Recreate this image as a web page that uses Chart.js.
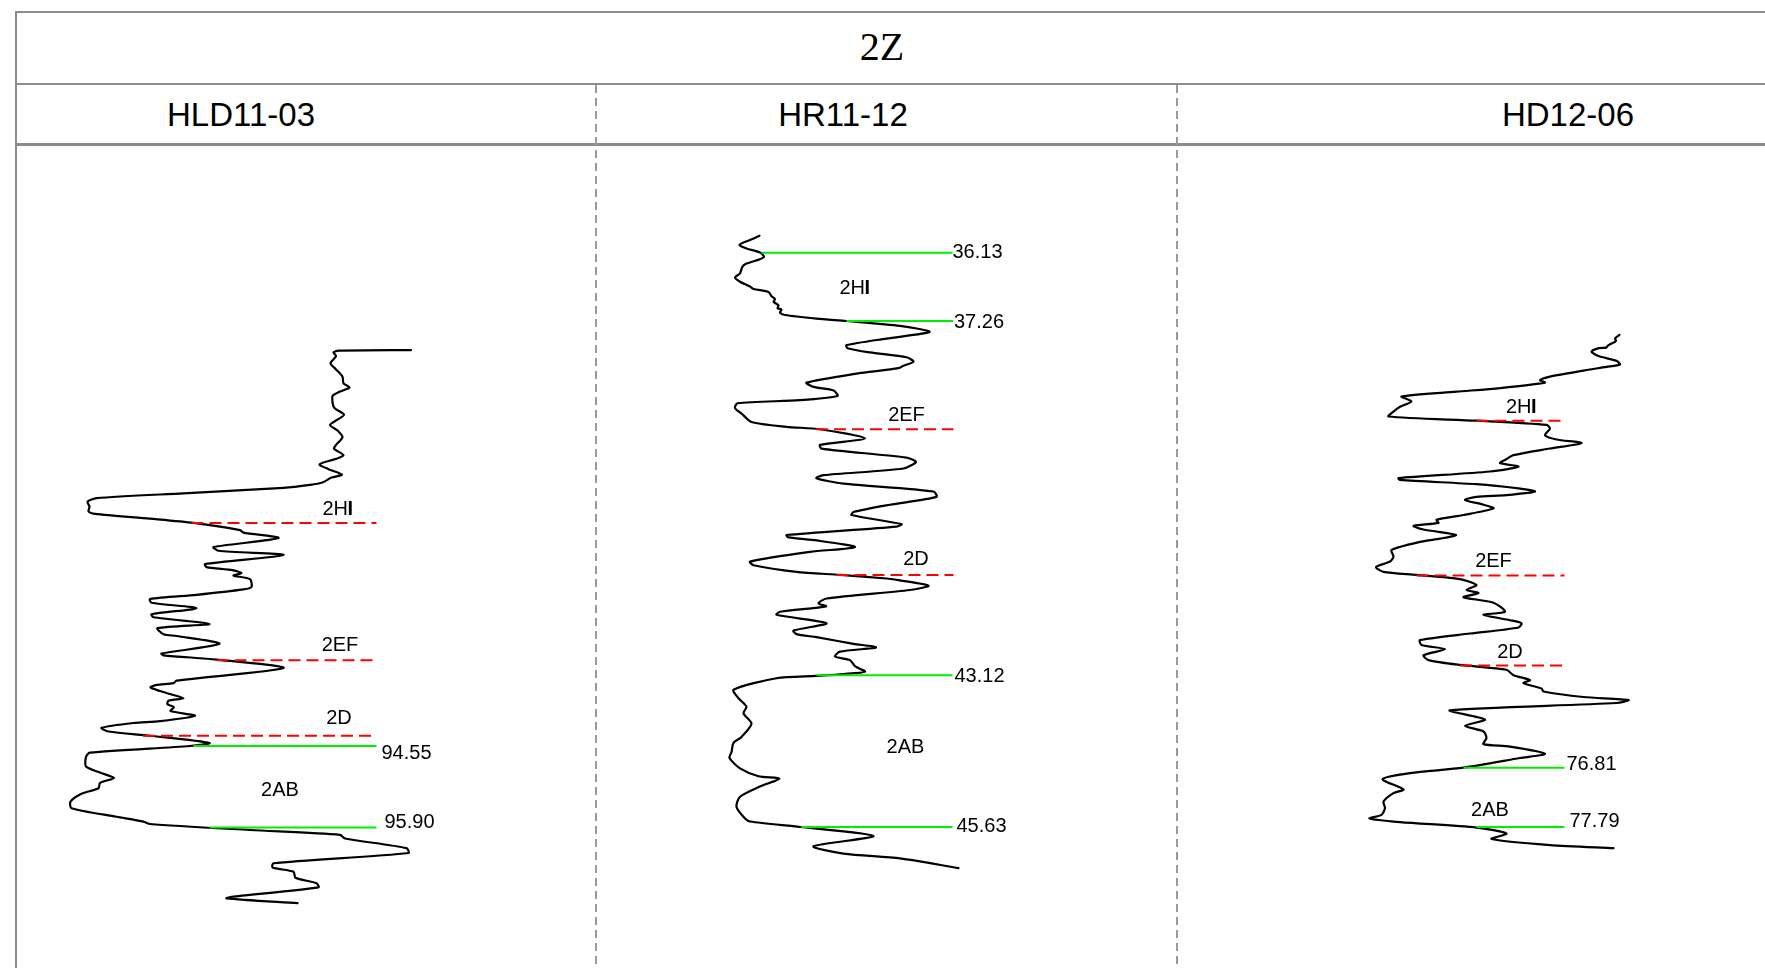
<!DOCTYPE html>
<html>
<head>
<meta charset="utf-8">
<script src="https://cdn.jsdelivr.net/npm/chart.js@4.4.1/dist/chart.umd.min.js"></script>
<style>
  html, body { margin: 0; padding: 0; background: #fff; }
  body { width: 1765px; height: 968px; position: relative; overflow: hidden; }
  .hl { position: absolute; background: #8c8c8c; }
  .vd { position: absolute; width: 2px; top: 85px; height: 883px;
        background: repeating-linear-gradient(to bottom, #9a9a9a 0 8px, transparent 8px 13px); }
  .txt { position: absolute; text-align: center; white-space: nowrap; color: #000; }
  canvas { position: absolute; }
</style>
</head>
<body>
<div class="hl" style="left:15px;top:11px;width:1750px;height:2px;"></div>
<div class="hl" style="left:15px;top:11px;width:2px;height:957px;"></div>
<div class="hl" style="left:15px;top:83px;width:1750px;height:2px;"></div>
<div class="hl" style="left:15px;top:143px;width:1750px;height:3px;"></div>
<div class="vd" style="left:595px;"></div>
<div class="vd" style="left:1176px;"></div>

<div class="txt" id="title" style="left:682px;width:400px;top:27px;font:40px/40px 'Liberation Serif','Times New Roman',serif;"></div>
<div class="txt" id="w0" style="left:41px;width:400px;top:98px;font:33px/33px 'Liberation Sans',Arial,sans-serif;"></div>
<div class="txt" id="w1" style="left:643px;width:400px;top:98px;font:33px/33px 'Liberation Sans',Arial,sans-serif;"></div>
<div class="txt" id="w2" style="left:1368px;width:400px;top:98px;font:33px/33px 'Liberation Sans',Arial,sans-serif;"></div>

<canvas id="c0" width="580" height="822" style="left:16px;top:146px;"></canvas>
<canvas id="c1" width="579" height="822" style="left:598px;top:146px;"></canvas>
<canvas id="c2" width="587" height="822" style="left:1178px;top:146px;"></canvas>

<script>
// ---------- titles ----------
const chartTitle = '2Z';
const wellNames = ['HLD11-03', 'HR11-12', 'HD12-06'];

// ---------- HLD11-03 : depth (m) and GR curve ----------
const hldDepth = [88.00,88.01,88.04,88.10,88.22,88.32,88.44,88.55,88.62,88.69,
  88.76,88.95,89.07,89.16,89.24,89.33,89.44,89.57,89.63,89.74,
  89.80,89.89,89.97,90.06,90.11,90.19,90.23,90.28,90.37,90.45,
  90.51,90.59,90.67,90.71,90.79,90.86,90.98,91.02,91.11,91.26,
  91.32,91.39,91.54,91.59,91.64,91.69,91.73,91.79,91.92,91.96,
  92.05,92.12,92.18,92.27,92.37,92.42,92.53,92.60,92.70,92.73,
  92.86,93.02,93.05,93.12,93.26,93.47,93.51,93.54,93.58,93.64,
  93.69,93.76,93.80,93.86,93.91,93.97,94.05,94.14,94.17,94.25,
  94.31,94.38,94.50,94.55,94.66,94.73,94.89,94.99,95.08,95.16,
  95.25,95.34,95.47,95.58,95.72,95.80,95.84,95.94,96.02,96.08,
  96.24,96.32,96.49,96.56,96.63,96.73,96.82,96.89,97.04,97.07,97.15];
const hldGR = [79.0,64.5,63.5,64.0,62.9,64.0,65.3,65.5,66.7,64.7,
  63.3,63.6,65.6,64.1,62.8,64.3,65.3,64.0,63.6,65.5,
  64.0,60.7,62.5,65.2,63.1,61.3,58.8,53.5,33.5,16.1,
  14.3,14.7,14.5,15.8,26.8,35.5,44.8,45.5,52.5,39.5,
  40.5,53.5,37.8,38.1,43.3,45.1,43.5,46.8,47.1,45.5,
  36.1,26.8,27.1,36.1,27.1,27.5,38.7,28.3,29.5,32.1,
  40.7,29.1,29.5,40.1,53.5,32.1,31.5,28.1,26.9,28.8,
  30.8,33.5,30.5,30.3,31.6,30.9,35.8,28.8,23.5,17.1,
  18.5,26.8,38.7,34.8,14.8,14.0,14.0,16.8,19.6,16.8,
  16.5,13.1,10.9,11.1,20.1,25.5,26.8,46.8,64.8,65.8,
  78.1,78.5,51.5,51.3,55.5,55.9,60.1,60.5,43.5,42.1,56.3];
const hldBoundDepth = [90.86, 93.13, 94.38, 94.55, 95.90];
const hldBoundStart = [35.1, 40.1, 25.4, 35.5, 38.8];
const hldBoundEnd   = [72.1, 72.1, 72.1, 72.1, 72.1];
const hldBoundKind  = ['top', 'top', 'top', 'pick', 'pick'];
const hldBoundText  = ['', '', '', '94.55', '95.90'];
const hldLayerName  = ['2HI', '2EF', '2D', '2AB'];
const hldLayerGR    = [64.4, 64.8, 64.6, 52.8];
const hldLayerDepth = [90.63, 92.88, 94.10, 95.29];

// ---------- HR11-12 ----------
const hrDepth = [35.85,35.92,36.00,36.06,36.13,36.20,36.24,36.31,36.36,36.47,
  36.54,36.61,36.69,36.73,36.78,36.85,36.90,36.94,37.00,37.05,
  37.07,37.12,37.16,37.22,37.26,37.34,37.44,37.55,37.66,37.71,
  37.78,37.86,37.93,38.00,38.04,38.13,38.28,38.35,38.41,38.50,
  38.57,38.62,38.70,38.79,38.93,39.01,39.05,39.20,39.31,39.37,
  39.52,39.59,39.70,39.81,39.86,39.95,40.08,40.17,40.30,40.42,
  40.47,40.62,40.66,40.80,40.84,40.89,41.00,41.08,41.24,41.30,
  41.41,41.46,41.52,41.55,41.64,41.71,41.85,41.93,41.98,42.07,
  42.12,42.26,42.38,42.44,42.49,42.60,42.66,42.73,42.81,42.87,
  42.97,43.06,43.10,43.13,43.17,43.36,43.50,43.64,43.75,43.92,
  44.14,44.24,44.39,44.49,44.66,44.79,44.83,44.96,45.13,45.30,
  45.49,45.54,45.63,45.78,45.95,46.07,46.15,46.31];
const hrGR = [32.3,30.4,28.3,29.7,32.5,33.2,32.3,29.7,28.9,28.4,
  27.4,28.4,30.4,31.1,34.1,34.7,35.4,35.1,36.1,35.9,
  36.7,36.4,37.4,43.7,49.7,60.4,66.3,57.7,49.7,49.9,
  54.4,61.7,63.1,61.1,60.1,51.7,41.7,43.1,47.1,47.9,
  40.4,27.9,27.4,28.7,30.7,37.7,44.4,53.4,44.4,44.7,
  61.7,63.6,61.1,45.1,43.7,49.1,67.1,67.7,58.4,51.1,
  50.7,60.7,59.7,37.7,38.1,43.7,51.4,42.4,30.4,31.1,
  39.7,48.4,57.7,60.4,66.1,62.4,45.7,44.1,45.6,36.4,
  35.7,45.7,39.1,39.7,43.7,51.1,55.6,48.4,47.4,50.4,
  51.4,53.4,49.1,43.7,35.7,27.1,28.1,29.7,29.1,30.7,
  28.7,27.1,26.7,26.3,28.4,32.1,36.3,32.4,28.4,27.7,
  29.4,30.4,40.4,55.1,43.1,49.1,60.4,72.1];
const hrBoundDepth = [36.13, 37.26, 39.05, 41.46, 43.12, 45.63];
const hrBoundStart = [32.7, 49.7, 43.6, 47.7, 43.7, 40.7];
const hrBoundEnd   = [70.9, 71.0, 71.1, 71.1, 70.9, 70.9];
const hrBoundKind  = ['pick', 'pick', 'top', 'top', 'pick', 'pick'];
const hrBoundText  = ['36.13', '37.26', '', '', '43.12', '45.63'];
const hrLayerName  = ['2HI', '2EF', '2D', '2AB'];
const hrLayerGR    = [51.4, 61.7, 63.6, 61.5];
const hrLayerDepth = [36.72, 38.83, 41.21, 44.31];

// ---------- HD12-06 ----------
const hdDepth = [69.65,69.71,69.75,69.82,69.86,69.87,69.93,70.00,70.08,70.14,
  70.18,70.24,70.34,70.40,70.44,70.53,70.59,70.67,70.75,70.84,
  70.92,71.00,71.07,71.14,71.20,71.31,71.38,71.44,71.53,71.64,
  71.72,71.77,71.83,71.91,72.02,72.05,72.12,72.19,72.24,72.30,
  72.33,72.38,72.46,72.52,72.63,72.71,72.76,72.81,72.87,72.96,
  73.02,73.07,73.21,73.32,73.40,73.49,73.57,73.62,73.69,73.79,
  73.87,73.92,73.99,74.08,74.23,74.28,74.37,74.42,74.49,74.59,
  74.70,74.78,74.85,74.95,75.03,75.11,75.19,75.28,75.36,75.41,
  75.50,75.55,75.64,75.69,75.74,75.86,75.97,76.02,76.12,76.21,
  76.32,76.42,76.46,76.58,76.65,76.81,76.90,77.00,77.17,77.23,
  77.37,77.48,77.59,77.65,77.71,77.80,77.90,77.99,78.09,78.14];
const hdGR = [88.3,87.4,87.6,86.1,85.6,84.1,82.7,84.1,87.7,88.4,
  85.7,81.1,74.4,72.4,73.4,64.4,55.7,44.7,46.7,44.4,
  43.1,42.1,59.7,73.7,74.4,73.4,75.7,80.7,74.4,67.1,
  65.4,64.4,68.1,62.4,44.1,44.4,59.7,68.1,71.4,65.7,
  59.7,57.4,61.1,63.1,57.1,51.7,52.1,47.1,49.1,55.6,
  52.4,48.7,42.7,43.1,42.4,39.6,41.1,47.7,56.4,59.7,
  57.7,60.1,57.1,63.1,65.4,61.1,66.4,68.7,68.1,58.4,
  48.4,48.7,53.4,49.1,50.1,56.4,65.7,67.1,70.4,69.1,
  72.7,73.1,81.1,90.1,87.7,54.4,59.7,61.4,57.4,61.1,
  61.7,61.1,66.4,73.4,68.4,57.1,46.4,40.9,45.1,43.1,
  41.1,41.4,40.7,38.3,44.4,59.7,65.7,62.7,74.4,87.1];
const hdBoundDepth = [71.07, 73.63, 75.12, 76.81, 77.79];
const hdBoundStart = [59.7, 47.7, 56.4, 57.1, 59.7];
const hdBoundEnd   = [77.3, 77.3, 77.3, 77.3, 77.3];
const hdBoundKind  = ['top', 'top', 'top', 'pick', 'pick'];
const hdBoundText  = ['', '', '', '76.81', '77.79'];
const hdLayerName  = ['2HI', '2EF', '2D', '2AB'];
const hdLayerGR    = [68.7, 63.1, 66.4, 62.4];
const hdLayerDepth = [70.85, 73.40, 74.91, 77.51];

// ---------- view/style settings (not data) ----------
const PX_PER_M = 60.45;       // vertical depth scale shared by all wells
const PX_PER_GR = 5;          // horizontal GR scale
const views = [
  { canvas: 'c0', topDepth: 94.55 - 600 / PX_PER_M, numOffsets: [[5, 7], [8, -5]] },
  { canvas: 'c1', topDepth: 36.13 - 106.7 / PX_PER_M, numOffsets: [[0, 0], [1, 1], [2, 1], [4, 0]] },
  { canvas: 'c2', topDepth: 76.81 - 621.7 / PX_PER_M, numOffsets: [[2, -3], [5, -5]] }
];

document.getElementById('title').textContent = chartTitle;
wellNames.forEach((n, i) => document.getElementById('w' + i).textContent = n);

const FONT = '20px "Liberation Sans", Arial, sans-serif';
const FONT_B = 'bold 20px "Liberation Sans", Arial, sans-serif';
const wellLabels = {
  id: 'wellLabels',
  afterDatasetsDraw(chart, args, opts) {
    const ctx = chart.ctx, xs = chart.scales.x, ys = chart.scales.y;
    ctx.save();
    ctx.fillStyle = '#000';
    ctx.font = FONT;
    ctx.textBaseline = 'middle';
    ctx.textAlign = 'left';
    opts.layers.forEach(l => {
      const w = ctx.measureText(l.name).width;
      const x0 = xs.getPixelForValue(l.gr) - w / 2, y0 = ys.getPixelForValue(l.depth);
      if (l.name.endsWith('I')) {
        const head = l.name.slice(0, -1);
        ctx.font = FONT;
        ctx.fillText(head, x0, y0);
        ctx.font = FONT_B;
        ctx.fillText('I', x0 + ctx.measureText(head).width - 0.5, y0);
        ctx.font = FONT;
      } else {
        ctx.fillText(l.name, x0, y0);
      }
    });
    opts.numbers.forEach(n => ctx.fillText(n.text, xs.getPixelForValue(n.gr) + n.dx, ys.getPixelForValue(n.depth) + n.dy));
    ctx.restore();
  }
};

function buildWell(view, depth, gr, bDepth, bStart, bEnd, bKind, bText, lName, lGR, lDepth) {
  const cv = document.getElementById(view.canvas);
  const datasets = [];
  bDepth.forEach((d, i) => {
    const top = bKind[i] === 'top';
    datasets.push({
      data: [{ x: bStart[i], y: d }, { x: bEnd[i], y: d }],
      showLine: true, pointRadius: 0, borderWidth: 2, tension: 0,
      borderColor: top ? '#ff0000' : '#00ee00',
      borderDash: top ? [12, 6] : []
    });
  });
  datasets.push({
    data: depth.map((d, i) => ({ x: gr[i], y: d })),
    showLine: true, pointRadius: 0, borderWidth: 2.2, borderColor: '#000',
    tension: 0.25, borderJoinStyle: 'round', borderCapStyle: 'round'
  });
  const numbers = [];
  let k = 0;
  bText.forEach((t, i) => {
    if (t) {
      const off = view.numOffsets[k++] || [0, 0];
      numbers.push({ text: t, gr: bEnd[i], depth: bDepth[i], dx: off[0], dy: off[1] });
    }
  });
  const layers = lName.map((n, i) => ({ name: n, gr: lGR[i], depth: lDepth[i] }));
  new Chart(cv, {
    type: 'scatter',
    data: { datasets },
    options: {
      responsive: false, animation: false, devicePixelRatio: 1,
      layout: { padding: 0 },
      scales: {
        x: { type: 'linear', display: false, min: 0, max: cv.width / PX_PER_GR },
        y: { type: 'linear', display: false, reverse: true,
             min: view.topDepth, max: view.topDepth + cv.height / PX_PER_M }
      },
      plugins: { legend: { display: false }, tooltip: { enabled: false },
                 wellLabels: { layers, numbers } },
      elements: { line: { capBezierPoints: true } }
    },
    plugins: [wellLabels]
  });
}

buildWell(views[0], hldDepth, hldGR, hldBoundDepth, hldBoundStart, hldBoundEnd, hldBoundKind, hldBoundText, hldLayerName, hldLayerGR, hldLayerDepth);
buildWell(views[1], hrDepth, hrGR, hrBoundDepth, hrBoundStart, hrBoundEnd, hrBoundKind, hrBoundText, hrLayerName, hrLayerGR, hrLayerDepth);
buildWell(views[2], hdDepth, hdGR, hdBoundDepth, hdBoundStart, hdBoundEnd, hdBoundKind, hdBoundText, hdLayerName, hdLayerGR, hdLayerDepth);
</script>
</body>
</html>
